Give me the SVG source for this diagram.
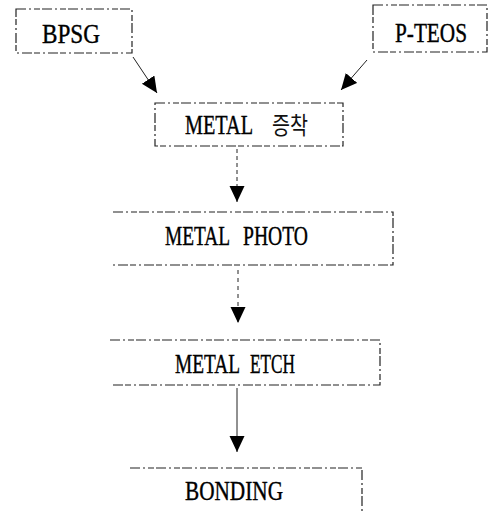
<svg xmlns="http://www.w3.org/2000/svg" width="489" height="512" viewBox="0 0 489 512">
<style>
.box{fill:none;stroke:#222;stroke-width:1.2;stroke-dasharray:10 3 2 3 6 2}
.t{font-family:"Liberation Serif","Times New Roman",serif;font-size:21px;fill:#000;stroke:#000;stroke-width:0.3}
.k{font-family:"Noto Sans CJK KR",sans-serif;font-size:22px;fill:#111}
.c{stroke:#222;stroke-width:1;fill:none}
</style>
<defs>
<marker id="ah" markerUnits="userSpaceOnUse" markerWidth="18" markerHeight="16" refX="16" refY="7.5" orient="auto">
<path d="M0,0 L16,7.5 L0,15 Z" fill="#000"/>
</marker>
</defs>
<rect width="489" height="512" fill="#fff"/>
<g id="bpsg">
<rect class="box" x="16" y="9" width="116" height="44"/>
<text class="t" transform="translate(42,43) scale(1,1.3)" textLength="58" lengthAdjust="spacingAndGlyphs">BPSG</text>
</g>
<g id="pteos">
<rect class="box" x="373" y="5" width="114" height="47"/>
<text class="t" transform="translate(395,42) scale(1,1.3)" textLength="72" lengthAdjust="spacingAndGlyphs">P-TEOS</text>
</g>
<g id="deposit">
<rect class="box" x="155" y="103" width="188" height="43"/>
<text class="t" transform="translate(185,134) scale(1,1.3)" textLength="68" lengthAdjust="spacingAndGlyphs">METAL</text>
<text class="k" transform="translate(272,134) scale(1,1.1)" textLength="36" lengthAdjust="spacingAndGlyphs">증착</text>
</g>
<g id="photo">
<path class="box" d="M113,212 H393 V265 H113"/>
<text class="t" transform="translate(165,245) scale(1,1.3)" textLength="65" lengthAdjust="spacingAndGlyphs">METAL</text>
<text class="t" transform="translate(243,245) scale(1,1.3)" textLength="65" lengthAdjust="spacingAndGlyphs">PHOTO</text>
</g>
<g id="etch">
<path class="box" d="M110,340 H380 V385 H110"/>
<text class="t" transform="translate(175,373) scale(1,1.3)" textLength="65" lengthAdjust="spacingAndGlyphs">METAL</text>
<text class="t" transform="translate(250,373) scale(1,1.3)" textLength="45" lengthAdjust="spacingAndGlyphs">ETCH</text>
</g>
<g id="bonding">
<path class="box" d="M130,468 H362 V512"/>
<text class="t" transform="translate(185,500) scale(1,1.3)" textLength="98" lengthAdjust="spacingAndGlyphs">BONDING</text>
</g>
<g id="connectors">
<line class="c" x1="133" y1="57" x2="157" y2="93" marker-end="url(#ah)"/>
<line class="c" x1="367" y1="60" x2="341" y2="90" marker-end="url(#ah)"/>
<line class="c" x1="237" y1="149" x2="237" y2="202" stroke-dasharray="4 3" marker-end="url(#ah)"/>
<line class="c" x1="238" y1="270" x2="238" y2="323" stroke-dasharray="4 4" marker-end="url(#ah)"/>
<line class="c" x1="237" y1="388" x2="237" y2="452" marker-end="url(#ah)"/>
</g>
</svg>
